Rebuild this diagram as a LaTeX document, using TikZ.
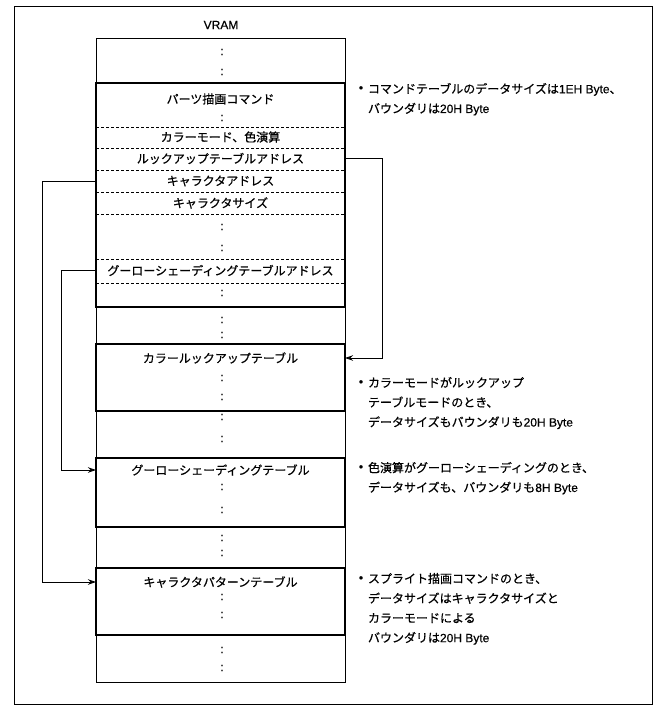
\documentclass[tikz,border=0pt]{standalone}
\usepackage{fontspec}
\setmainfont{Noto Sans CJK JP}[FakeBold=0.6]
\newfontfamily\lat{Liberation Sans}[FakeBold=0.5]
\usetikzlibrary{arrows.meta}
\begin{document}
\begin{tikzpicture}[x=1pt,y=-1pt,
  every node/.style={inner sep=0pt, outer sep=0pt},
  jp/.style={font=\fontsize{12}{14}\selectfont},
  rowtxt/.style={jp, minimum width=249pt, align=center},
  dots/.style={font=\lat\fontsize{12}{14}\selectfont},
  thinbox/.style={draw, line width=0.9pt, minimum width=249pt},
  thickbox/.style={draw, line width=2pt, minimum width=249pt},
  dline/.style={line width=0.8pt, dash pattern=on 3pt off 2pt},
  arr/.style={line width=0.9pt, -{Stealth[length=8pt,width=5.5pt]}},
  note/.style={font=\fontsize{12}{19.7}\selectfont, align=left, anchor=north west},
  bul/.style={font=\lat\fontsize{12}{12}\selectfont},
]
\useasboundingbox (0,0) rectangle (662,719);
% outer frame
\node[draw, line width=1pt, minimum width=638pt, minimum height=697pt] (frame) at (333,355.5) {};
\node[font=\lat\fontsize{12}{14}\selectfont] (vram) at (221,25) {VRAM};
% VRAM column
\node[thinbox, minimum height=644pt] (col) at (220.5,360) {};
% tables
\node[thickbox, minimum height=224pt] (cmd) at (220.5,195) {};
\node[thickbox, minimum height=67pt] (clut) at (220.5,377.5) {};
\node[thickbox, minimum height=69pt] (gour) at (220.5,492.5) {};
\node[thickbox, minimum height=67pt] (chr) at (220.5,601.5) {};
% dashed separators in command table
\foreach \yy in {127,148,170,192,214,259,283}
  \draw[dline] (cmd.west |- 0,\yy) -- (cmd.east |- 0,\yy);
% colons
\foreach \yy [count=\i] in {52,72,118,227,248,293,320,335,378,397,417,439,487,510,538,553,597,615,650,668}
  \node[dots] (c\i) at (222,\yy) {:};
% rows of command table
\node[rowtxt] (parts) at (220.5,99) {パーツ描画コマンド};
\node[rowtxt] (cmode) at (220.5,137) {カラーモード、色演算};
\node[rowtxt] (lut) at (220.5,158.5) {ルックアップテーブルアドレス};
\node[rowtxt] (chra) at (220.5,181) {キャラクタアドレス};
\node[rowtxt] (chrs) at (220.5,203) {キャラクタサイズ};
\node[rowtxt] (gaddr) at (220.5,270.5) {グーローシェーディングテーブルアドレス};
% table titles
\node[rowtxt] (clutT) at (220.5,358) {カラールックアップテーブル};
\node[rowtxt] (gourT) at (220.5,470) {グーローシェーディングテーブル};
\node[rowtxt] (chrT) at (220.5,582) {キャラクタパターンテーブル};
% connectors
\draw[arr] (lut.east) -- ++(37,0) |- (clutT.east);
\draw[arr] (gaddr.west) -- ++(-35,0) |- (gourT.west);
\draw[arr] (chra.west) -- ++(-54,0) |- (chrT.west);
% notes
\node[bul] (b1) at (361,89) {•};
\node[note] (n1) at (368,83) {コマンドテーブルのデータサイズは{\lat 1EH Byte}、\\バウンダリは{\lat 20H Byte}};
\node[bul] (b2) at (361,383) {•};
\node[note] (n2) at (368,377) {カラーモードがルックアップ\\テーブルモードのとき、\\データサイズもバウンダリも{\lat 20H Byte}};
\node[bul] (b3) at (361,468) {•};
\node[note] (n3) at (368,462) {色演算がグーローシェーディングのとき、\\データサイズも、バウンダリも{\lat 8H Byte}};
\node[bul] (b4) at (361,579) {•};
\node[note] (n4) at (368,573) {スプライト描画コマンドのとき、\\データサイズはキャラクタサイズと\\カラーモードによる\\バウンダリは{\lat 20H Byte}};
\end{tikzpicture}
\end{document}
